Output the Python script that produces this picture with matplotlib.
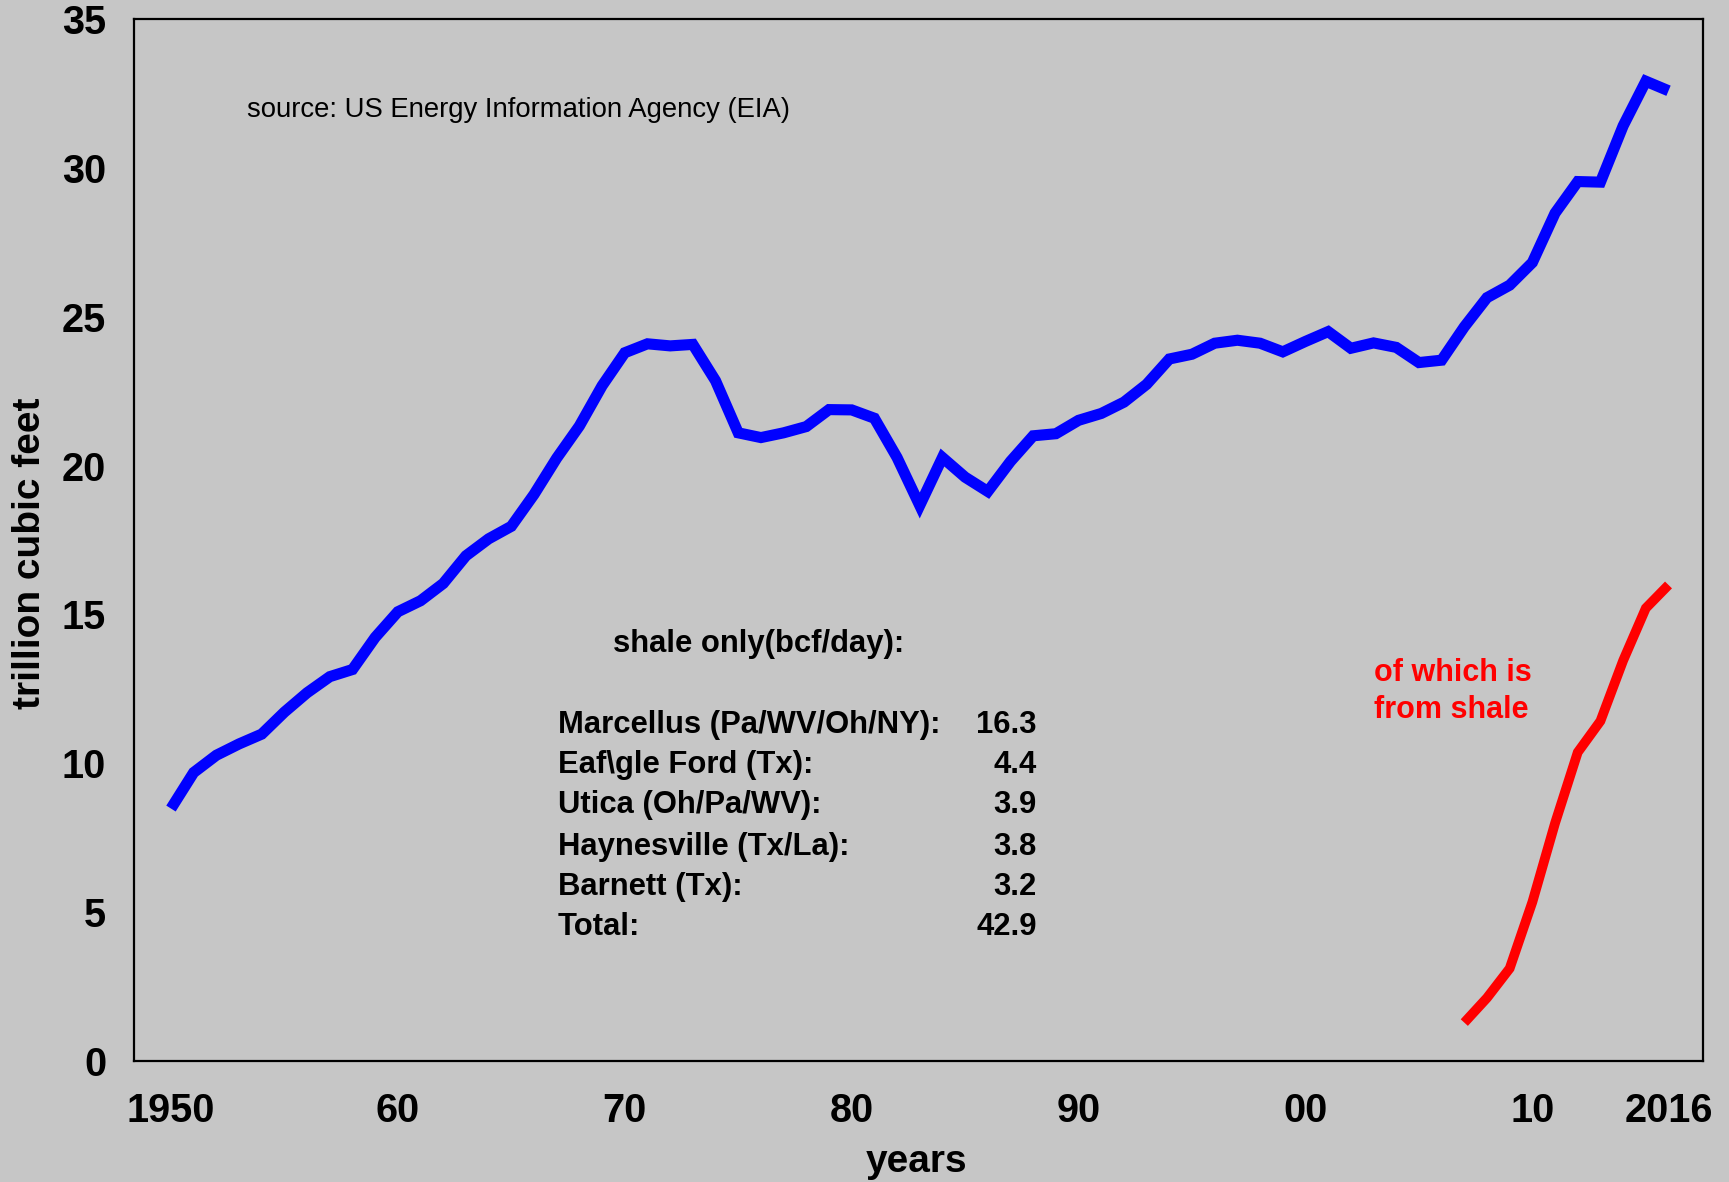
import matplotlib
matplotlib.use("Agg")
import matplotlib.pyplot as plt

plt.rcParams['font.family'] = ['Liberation Sans', 'DejaVu Sans']

# ---- data ----
years = list(range(1950, 2017))
total_gas = [8.48, 9.69, 10.27, 10.65, 10.98, 11.72, 12.37, 12.91, 13.15, 14.23,
             15.09, 15.46, 16.04, 16.97, 17.54, 17.96, 19.03, 20.25, 21.33, 22.68,
             23.79, 24.09, 24.02, 24.07, 22.85, 21.10, 20.94, 21.10, 21.31, 21.88,
             21.87, 21.59, 20.27, 18.66, 20.27, 19.61, 19.13, 20.14, 21.00, 21.07,
             21.52, 21.75, 22.13, 22.73, 23.58, 23.74, 24.11, 24.21, 24.11, 23.82,
             24.17, 24.50, 23.94, 24.12, 23.97, 23.46, 23.54, 24.66, 25.64, 26.06,
             26.82, 28.48, 29.54, 29.52, 31.41, 32.91, 32.59]
shale_years = list(range(2007, 2017))
shale_gas = [1.29, 2.12, 3.11, 5.34, 7.99, 10.37, 11.42, 13.45, 15.21, 15.99]

x_ticks = [1950, 1960, 1970, 1980, 1990, 2000, 2010, 2016]
x_ticklabels = ["1950", "60", "70", "80", "90", "00", "10", "2016"]
y_ticks = [0, 5, 10, 15, 20, 25, 30, 35]

table_title = "shale only(bcf/day):"
table_names = ["Marcellus (Pa/WV/Oh/NY):", "Eaf\\gle Ford (Tx):", "Utica (Oh/Pa/WV):",
               "Haynesville (Tx/La):", "Barnett (Tx):", "Total:"]
table_values = ["16.3", "4.4", "3.9", "3.8", "3.2", "42.9"]

bg = '#c6c6c6'

fig = plt.figure(figsize=(17.29, 11.82), dpi=100, facecolor=bg)
ax = fig.add_axes([134/1729, 1 - 1061/1182, (1703-134)/1729, (1061-19)/1182])
ax.set_facecolor(bg)

ax.plot(years, total_gas, color='#0000ff', lw=8, solid_joinstyle='miter',
        solid_capstyle='butt')
ax.plot(shale_years, shale_gas, color='#ff0000', lw=7, solid_joinstyle='miter',
        solid_capstyle='butt')

ax.set_xlim(1948.37, 2017.52)
ax.set_ylim(0, 35)
ax.set_xticks(x_ticks)
ax.set_xticklabels(x_ticklabels)
ax.set_yticks(y_ticks)
ax.tick_params(axis='both', length=0, labelsize=28.5)
ax.tick_params(axis='y', pad=20)
ax.tick_params(axis='x', pad=22)
for lab in ax.get_xticklabels() + ax.get_yticklabels():
    lab.set_fontweight('bold')
for s in ax.spines.values():
    s.set_linewidth(1.6)
    s.set_color('black')

fig.text(30/1729, 1 - 553/1182, "trillion cubic feet", rotation=90, ha='center',
         va='center', fontsize=28, fontweight='bold')
fig.text(917/1729, 1 - 1172/1182, "years", ha='center', va='baseline',
         fontsize=28, fontweight='bold')

ax.text(1953.35, 31.94, "source: US Energy Information Agency (EIA)", ha='left',
        va='center', fontsize=19.8)

ax.text(1969.5, 14.0, table_title, ha='left', va='center', fontsize=22.3,
        fontweight='bold')
row_y = [11.29, 9.94, 8.6, 7.19, 5.84, 4.5]
for name, val, yy in zip(table_names, table_values, row_y):
    ax.text(1967.06, yy, name, ha='left', va='center', fontsize=22.3, fontweight='bold')
    ax.text(1988.15, yy, val, ha='right', va='center', fontsize=22.3, fontweight='bold')

ax.text(2003.0, 12.41, "of which is\nfrom shale", ha='left', va='center',
        fontsize=22, fontweight='bold', color='#ff0000', linespacing=1.33)

fig.savefig("out.png", dpi=100, facecolor=bg)
